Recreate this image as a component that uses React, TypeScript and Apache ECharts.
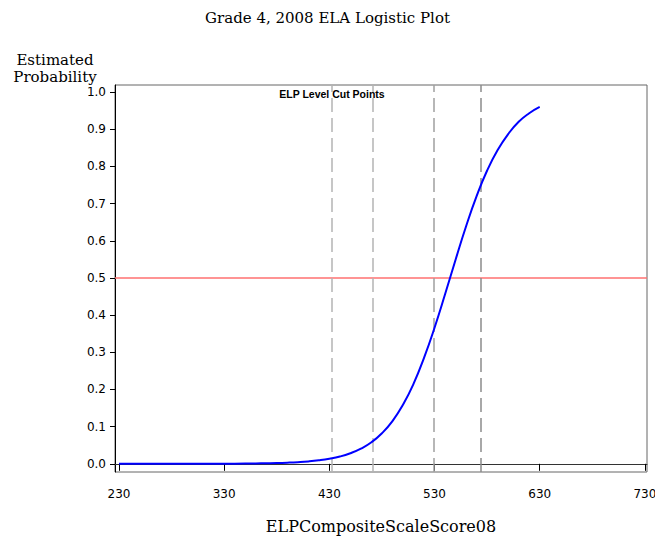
import React, { useEffect, useRef } from "react";
import * as echarts from "echarts";

const xTicks = [230, 330, 430, 530, 630, 730];
const yTicks = [0, 0.1, 0.2, 0.3, 0.4, 0.5, 0.6, 0.7, 0.8, 0.9, 1.0];
const cutPoints = [432.5, 471.5, 529.5, 573.5];
const cutColors = ["#b4b4b4", "#b4b4b4", "#a0a0a0", "#8c8c8c"];
const scoreX = [
  230, 250, 270, 290, 310, 330, 350, 360, 370, 380, 390, 400, 410, 420, 430,
  440, 450, 460, 470, 480, 490, 500, 510, 520, 530, 540, 550, 560, 570, 580,
  590, 600, 610, 620, 630,
];
const probY = [
  0.0, 0.0, 0.0001, 0.0001, 0.0002, 0.0003, 0.0007, 0.001, 0.0015, 0.0021,
  0.0031, 0.0045, 0.0065, 0.0095, 0.0137, 0.0196, 0.0285, 0.0408, 0.058,
  0.0823, 0.115, 0.159, 0.215, 0.285, 0.366, 0.456, 0.549, 0.639, 0.72, 0.789,
  0.844, 0.887, 0.92, 0.943, 0.96,
];

export default function App() {
  const ref = useRef<HTMLDivElement>(null);
  useEffect(() => {
    if (!ref.current) return;
    const chart = echarts.init(ref.current, null, { renderer: "svg" });
    const sans = "DejaVu Sans";
    const serif = "DejaVu Serif";
    chart.setOption({
      animation: false,
      backgroundColor: "#fff",
      title: {
        text: "Grade 4, 2008 ELA Logistic Plot",
        left: "center",
        top: 5,
        textStyle: { fontFamily: serif, fontSize: 15, fontWeight: "normal", color: "#000" },
      },
      graphic: [
        {
          type: "text",
          x: 55,
          y: 51,
          style: {
            text: "Estimated\nProbability",
            font: "15px 'DejaVu Serif'",
            fill: "#000",
            align: "center",
            lineHeight: 17,
          },
        },
      ],
      grid: {
        left: 115,
        right: 8,
        top: 85,
        bottom: 65,
        outerBoundsMode: "none",
        containLabel: false,
        show: true,
        borderColor: "#666",
        borderWidth: 1,
        backgroundColor: "transparent",
      },
      xAxis: {
        type: "value",
        min: 226.2,
        max: 732,
        name: "ELPCompositeScaleScore08",
        nameLocation: "middle",
        nameGap: 46,
        nameTextStyle: { fontFamily: serif, fontSize: 16, color: "#000" },
        splitLine: { show: false },
        axisLine: { show: true, lineStyle: { color: "#333" } },
        axisTick: {
          show: true,
          length: 7,
          customValues: xTicks,
          lineStyle: { color: "#000" },
        },
        axisLabel: {
          customValues: xTicks,
          formatter: (v: number) => String(Math.round(v)),
          fontFamily: sans,
          fontSize: 12,
          color: "#000",
          margin: 16,
          hideOverlap: false,
        },
      },
      yAxis: {
        type: "value",
        min: -0.022,
        max: 1.019,
        splitLine: { show: false },
        axisLine: { show: true, lineStyle: { color: "#000" } },
        axisTick: {
          show: true,
          length: 5,
          customValues: yTicks,
          lineStyle: { color: "#000" },
        },
        axisLabel: {
          customValues: yTicks,
          formatter: (v: number) => v.toFixed(1),
          fontFamily: sans,
          fontSize: 12,
          color: "#000",
          margin: 9,
        },
      },
      series: [
        {
          type: "line",
          data: scoreX.map((x, i) => [x, probY[i]]),
          showSymbol: false,
          smooth: true,
          lineStyle: { color: "#0000ff", width: 2 },
          z: 5,
          markLine: {
            silent: true,
            symbol: "none",
            label: { show: false },
            data: [
              {
                yAxis: 0.5,
                lineStyle: { color: "#ff7070", type: "solid", width: 1.5 },
              },
              ...cutPoints.map((c, i) => ({
                xAxis: c,
                lineStyle: { color: cutColors[i], type: [14, 6], width: 1.5 },
              })),
            ],
          },
          markPoint: {
            symbol: "circle",
            symbolSize: 0,
            data: [
              {
                coord: [cutPoints[0], 0.995],
                label: {
                  show: true,
                  formatter: "ELP Level Cut Points",
                  fontFamily: "Liberation Sans",
                  fontSize: 10.5,
                  fontWeight: "bold",
                  color: "#000",
                  position: "inside",
                },
              },
            ],
          },
        },
      ],
    });
    return () => chart.dispose();
  }, []);
  return <div ref={ref} style={{ width: 655, height: 537, position: "absolute", left: 0, top: 0 }} />;
}
